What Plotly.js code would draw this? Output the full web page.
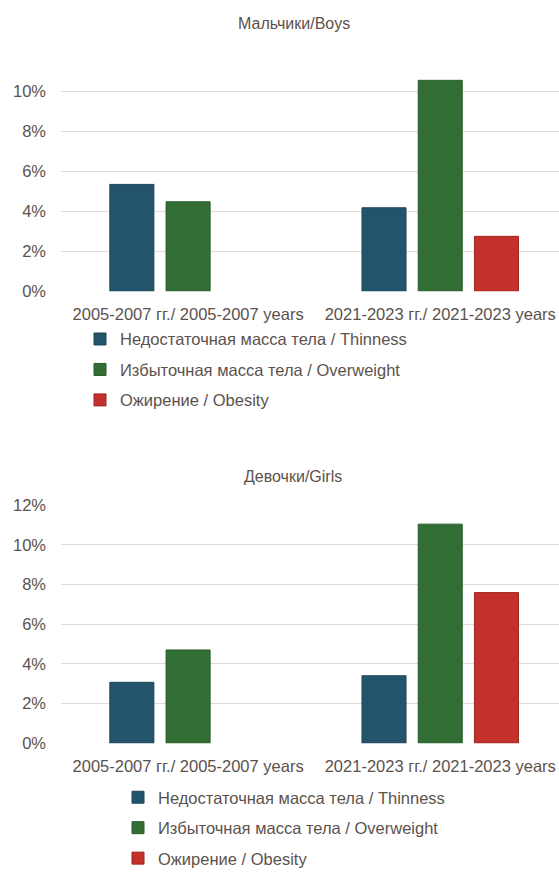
<!DOCTYPE html>
<html>
<head>
<meta charset="utf-8">
<script src="https://cdn.plot.ly/plotly-3.0.1.min.js"></script>
<style>html,body{margin:0;padding:0;background:#fff;}#chart{width:559px;height:876px;}</style>
</head>
<body>
<div id="chart"></div>
<script>
// Data
var categories = ['2005-2007 гг./ 2005-2007 years', '2021-2023 гг./ 2021-2023 years'];
var seriesNames = ['Недостаточная масса тела / Thinness', 'Избыточная масса тела / Overweight', 'Ожирение / Obesity'];
var boysThinness = [0.0535, 0.0418];
var boysOverweight = [0.0448, 0.1056];
var boysObesity = [null, 0.0275];
var girlsThinness = [0.0307, 0.0340];
var girlsOverweight = [0.0470, 0.1104];
var girlsObesity = [null, 0.0759];
var boysTitle = 'Мальчики/Boys';
var girlsTitle = 'Девочки/Girls';

var colors = ['#23546c', '#326e34', '#c4302b'];
var edges = ['#1d4458', '#2a5c2c', '#9c2622'];
var font = {family: '"Liberation Sans", Arial, sans-serif', size: 16.5, color: '#5c524d'};

function mk(y, i, xa, ya, leg) {
  return {
    type: 'bar', x: categories, y: y, name: seriesNames[i],
    xaxis: xa, yaxis: ya, legend: leg, legendgroup: leg + i,
    marker: {color: colors[i], line: {color: edges[i], width: 1}},
    hoverinfo: 'skip'
  };
}
var data = [
  mk(boysThinness, 0, 'x', 'y', 'legend'),
  mk(boysOverweight, 1, 'x', 'y', 'legend'),
  mk(boysObesity, 2, 'x', 'y', 'legend'),
  mk(girlsThinness, 0, 'x2', 'y2', 'legend2'),
  mk(girlsOverweight, 1, 'x2', 'y2', 'legend2'),
  mk(girlsObesity, 2, 'x2', 'y2', 'legend2')
];

var H = 876, W = 559;
function py(p) { return 1 - p / H; }
var xCommon = {
  type: 'category', range: [-0.504, 1.471], domain: [61 / W, 1],
  showgrid: false, zeroline: false, showline: false, ticks: '',
  tickfont: font, ticklabelstandoff: 11, fixedrange: true
};
var yCommon = {
  tickformat: '.0%', dtick: 0.02, showgrid: true, gridcolor: '#e2dbd2', gridwidth: 1.2,
  zeroline: false, showline: false, ticks: '', tickfont: font, ticklabelstandoff: 14, fixedrange: true
};
var legCommon = {
  orientation: 'v', font: font, bgcolor: 'rgba(0,0,0,0)', borderwidth: 0,
  traceorder: 'grouped', tracegroupgap: 6, xanchor: 'left', yanchor: 'top'
};

var layout = {
  width: W, height: H,
  margin: {l: 0, r: 0, t: 0, b: 0},
  paper_bgcolor: '#ffffff', plot_bgcolor: '#ffffff',
  barmode: 'group', bargap: 0.331, bargroupgap: 0.217,
  font: font,
  xaxis: Object.assign({}, xCommon, {anchor: 'y'}),
  yaxis: Object.assign({}, yCommon, {anchor: 'x', range: [0, 0.11], domain: [py(296), py(72.7)]}),
  xaxis2: Object.assign({}, xCommon, {anchor: 'y2'}),
  yaxis2: Object.assign({}, yCommon, {anchor: 'x2', range: [0, 0.12], domain: [py(755.3), py(513.3)]}),
  legend: Object.assign({}, legCommon, {x: (120 - 40) / W, y: py(327)}),
  legend2: Object.assign({}, legCommon, {x: (158 - 40) / W, y: py(793)}),
  showlegend: true,
  annotations: [
    {text: boysTitle, xref: 'paper', yref: 'paper', x: 294 / W, y: py(24), xanchor: 'center', yanchor: 'middle', showarrow: false, font: Object.assign({}, font, {size: 16})},
    {text: girlsTitle, xref: 'paper', yref: 'paper', x: 293 / W, y: py(484), xanchor: 'center', yanchor: 'middle', showarrow: false, font: Object.assign({}, font, {size: 16})}
  ]
};

Plotly.newPlot('chart', data, layout, {displayModeBar: false, staticPlot: true});
</script>
</body>
</html>
